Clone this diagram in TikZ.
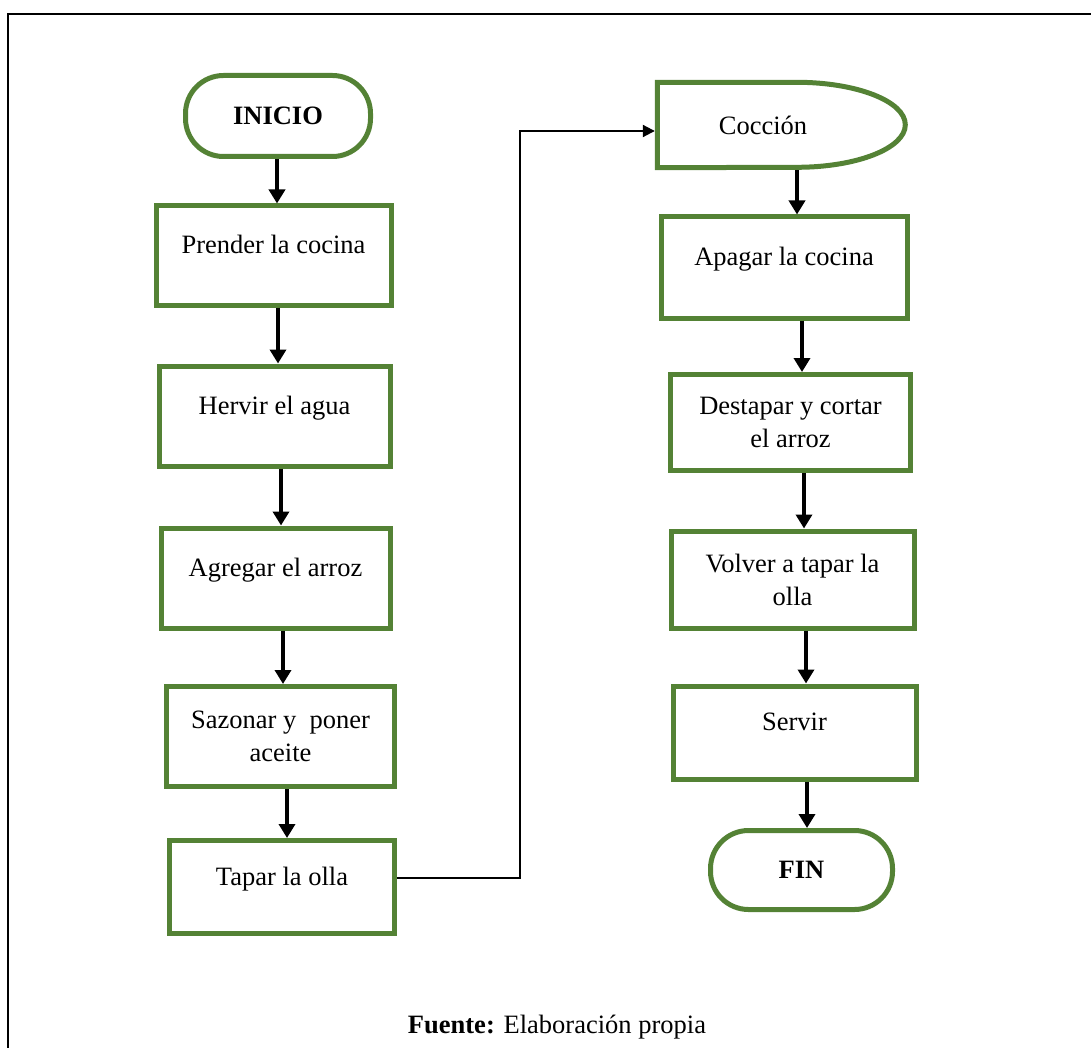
\documentclass[tikz,border=0pt]{standalone}
\usepackage{fontspec}
\setmainfont{Liberation Serif}
\usepackage{xcolor}
\usepackage{tikz}
\usetikzlibrary{arrows.meta}
\definecolor{verde}{HTML}{548235}

\begin{document}
\begin{tikzpicture}[x=1pt,y=1pt,>={Triangle[length=14pt,width=16pt]},font=\fontsize{26.5}{33}\selectfont,
  paso/.style={draw=verde,line width=5pt,rectangle,align=center},
  unalinea/.style={text height=18pt,text depth=22pt},
  terminal/.style={paso,rounded corners=38pt,font=\fontsize{26.5}{33}\selectfont\bfseries},
  flecha/.style={->,line width=3.5pt}]
\useasboundingbox(0,0)rectangle(1091,-1048);
\draw[line width=2.2pt](8,-1048)--(8,-14)--(1091,-14);
\node[terminal,minimum width=185pt,minimum height=81pt](inicio)at(278,-116){INICIO};
\node[paso,unalinea,minimum width=235pt,minimum height=99pt](prender)at(273.5,-255.5){Prender la cocina};
\node[paso,unalinea,minimum width=231pt,minimum height=100pt](hervir)at(274.5,-416){Hervir el agua};
\node[paso,unalinea,minimum width=229pt,minimum height=100pt](agregar)at(275.5,-578){Agregar el arroz};
\node[paso,minimum width=228pt,minimum height=100pt](sazonar)at(280.5,-736.5){Sazonar y~ poner\\aceite};
\node[paso,unalinea,minimum width=225pt,minimum height=93pt](tapar)at(282,-887){Tapar la olla};
\node[minimum width=211pt,minimum height=85pt,inner sep=0pt](coccion)at(763,-125){Cocción};
\draw[draw=verde,line width=5pt](coccion.north west)--++(139.5,0)
  arc[start angle=90,end angle=-90,x radius=108.5,y radius=42.5]--(coccion.south west)--cycle;
\node[paso,unalinea,minimum width=246pt,minimum height=101pt](apagar)at(784,-267.5){Apagar la cocina};
\node[paso,minimum width=240pt,minimum height=96pt](destapar)at(790.5,-422.5){Destapar y cortar\\el arroz};
\node[paso,minimum width=243pt,minimum height=97pt](volver)at(792.5,-579.5){Volver a tapar la\\olla};
\node[paso,unalinea,minimum width=243pt,minimum height=93pt](servir)at(794.5,-732.5){Servir};
\node[terminal,minimum width=182pt,minimum height=79pt](fin)at(801.5,-870){FIN};
\draw[flecha]([xshift=-1pt]inicio.south)--([xshift=-1pt]inicio.south|-prender.north);
\draw[flecha]([xshift=4.5pt]prender.south)--([xshift=4.5pt]prender.south|-hervir.north);
\draw[flecha]([xshift=6.5pt]hervir.south)--([xshift=6.5pt]hervir.south|-agregar.north);
\draw[flecha]([xshift=7.5pt]agregar.south)--([xshift=7.5pt]agregar.south|-sazonar.north);
\draw[flecha]([xshift=6.5pt]sazonar.south)--([xshift=6.5pt]sazonar.south|-tapar.north);
\draw[->,>={Triangle[length=12pt,width=12pt]},line width=2pt,shorten >=2.5pt]
  ([yshift=9pt]tapar.east)--++(123,0)|-([yshift=-6pt]coccion.west);
\draw[flecha]([xshift=34pt,yshift=-2.5pt]coccion.south)--([xshift=34pt]coccion.south|-apagar.north);
\draw[flecha]([xshift=18pt]apagar.south)--([xshift=18pt]apagar.south|-destapar.north);
\draw[flecha]([xshift=13.5pt]destapar.south)--([xshift=13.5pt]destapar.south|-volver.north);
\draw[flecha]([xshift=13.5pt]volver.south)--([xshift=13.5pt]volver.south|-servir.north);
\draw[flecha]([xshift=12.5pt]servir.south)--([xshift=12.5pt]servir.south|-fin.north);
\node[anchor=base](fuente)at(557,-1033){\textbf{Fuente:} Elaboración propia};
\end{tikzpicture}
\end{document}
